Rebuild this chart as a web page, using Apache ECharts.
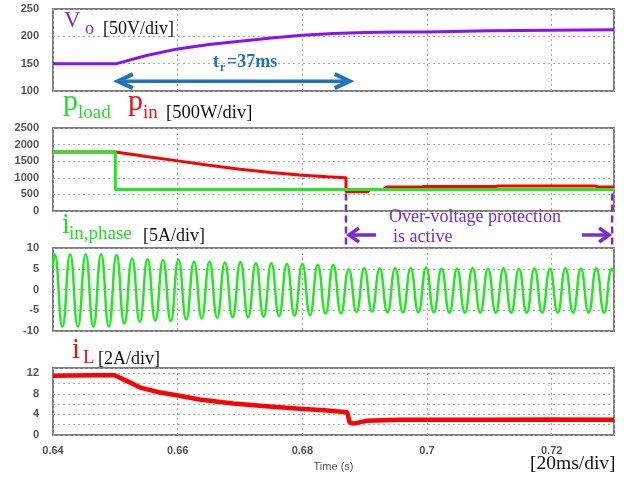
<!DOCTYPE html>
<html><head><meta charset="utf-8">
<script src="https://cdn.jsdelivr.net/npm/echarts@6/dist/echarts.min.js"></script>
<style>html,body{margin:0;padding:0;background:#fff}#c{width:624px;height:481px}</style>
</head><body><div id="c"></div>
<script>
// ---- data ----
const xTickLabels = ['0.64','0.66','0.68','0.7','0.72'];

const voTime = [0.64, 0.6502, 0.655, 0.66, 0.665, 0.67, 0.675, 0.68, 0.685, 0.69, 0.695, 0.70, 0.71, 0.72, 0.73];
const voVal  = [150, 150, 165, 177, 185, 191, 197, 202, 205, 207, 208, 208, 210, 211, 212];

const ploadTime = [0.64, 0.65, 0.65, 0.73];
const ploadVal  = [1780, 1780, 650, 650];

const pinTime = [0.64, 0.65, 0.655, 0.66, 0.665, 0.67, 0.675, 0.68, 0.684, 0.687, 0.687, 0.6905, 0.6908, 0.693, 0.6935, 0.699, 0.6995, 0.711, 0.7115, 0.727, 0.7275, 0.73];
const pinVal  = [1780, 1780, 1640, 1510, 1375, 1255, 1160, 1080, 1030, 1000, 580, 580, 650, 650, 720, 720, 740, 740, 750, 750, 725, 725];

const iphTime = [0.64, 0.64027, 0.64151, 0.64275, 0.64399, 0.64524, 0.64648, 0.64772, 0.64896, 0.65020, 0.65144,
  0.65269, 0.65393, 0.65517, 0.65641, 0.65765, 0.65889, 0.66013, 0.66138, 0.66262, 0.66386,
  0.66510, 0.66634, 0.66758, 0.66882, 0.67007, 0.67131, 0.67255, 0.67379, 0.67503, 0.67627,
  0.67752, 0.67876, 0.68000, 0.68124, 0.68248, 0.68372, 0.68496, 0.68621, 0.68745, 0.68869,
  0.68993, 0.69117, 0.69241, 0.69365, 0.69490, 0.69614, 0.69738, 0.69862, 0.69986, 0.70110,
  0.70234, 0.70359, 0.70483, 0.70607, 0.70731, 0.70855, 0.70979, 0.71103, 0.71228, 0.71352,
  0.71476, 0.71600, 0.71724, 0.71848, 0.71973, 0.72097, 0.72221, 0.72345, 0.72469, 0.72593,
  0.72717, 0.72842, 0.72966, 0.73];
const iphVal = [5.5, 8.5, -9.0, 8.5, -9.0, 8.5, -9.0, 8.5, -8.9, 8.3, -8.2,
  7.5, -7.8, 7.3, -7.5, 7.1, -7.6, 7.2, -7.2, 6.7, -7.0,
  6.7, -6.8, 6.5, -6.7, 6.6, -6.7, 6.3, -6.55, 6.3, -6.4,
  6.15, -6.3, 6.15, -6.15, 5.9, -5.8, 5.9, -5.75, 4.9, -5.4,
  5.1, -5.35, 5.1, -5.5, 5.1, -5.5, 5.1, -5.5, 5.3, -5.5,
  5.0, -5.6, 5.0, -5.6, 5.1, -5.6, 5.0, -5.6, 5.1, -5.6,
  5.0, -5.6, 5.1, -5.6, 5.0, -5.6, 5.1, -5.6, 5.0, -5.6,
  5.1, -5.6, 5.0, 4.0];

const ilTime = [0.64, 0.6465, 0.6499, 0.6518, 0.654, 0.657, 0.6598, 0.6635, 0.6689, 0.6742, 0.6796, 0.6835, 0.6868, 0.6872, 0.6876, 0.6882, 0.6903, 0.6956, 0.70, 0.71, 0.72, 0.73];
const ilVal  = [11.5, 11.6, 11.6, 10.5, 9.2, 8.3, 7.7, 6.9, 6.1, 5.6, 5.1, 4.8, 4.45, 4.4, 2.4, 2.2, 2.75, 2.95, 2.95, 2.95, 3.0, 2.95];

const riseStart = 0.6504, riseEnd = 0.6876;     // t_r = 37 ms
const ovpStart = 0.687, ovpEnd = 0.7297;

// ---- chart ----
const pair = (t, v) => t.map((x, i) => [x, v[i]]);
const serif = '"Liberation Serif","DejaVu Serif",serif';
const sans = '"Liberation Sans",Arial,sans-serif';
const gridTops = [9, 128, 248, 368], gridH = [82, 83, 83, 67];

function makeX(i) {
  const last = i === 3;
  return {
    type: 'value', gridIndex: i, min: 0.64, max: 0.73, interval: 0.02,
    axisLine: { show: false }, axisTick: { show: false },
    splitLine: { show: true, lineStyle: { color: '#a8a8a8', type: [2, 3], width: 1 } },
    axisLabel: last ? {
      show: true, margin: 10, color: '#555', fontSize: 11, fontWeight: 'bold', fontFamily: sans,
      formatter: v => { const k = Math.round((v - 0.64) / 0.02); return Math.abs(v - 0.64 - k * 0.02) < 1e-7 && k < xTickLabels.length ? xTickLabels[k] : ''; }
    } : { show: false },
    name: last ? 'Time (s)' : '', nameLocation: 'middle', nameGap: 26,
    nameTextStyle: { color: '#555', fontSize: 11, fontFamily: sans }
  };
}
function makeY(i, min, max, interval, fmt) {
  return {
    type: 'value', gridIndex: i, min, max, interval,
    axisLine: { show: false }, axisTick: { show: false },
    splitLine: { show: true, lineStyle: { color: '#a8a8a8', type: [2, 3], width: 1 } },
    axisLabel: { margin: 14, color: '#555', fontSize: 11, fontWeight: 'bold', fontFamily: sans, formatter: fmt || (v => String(v)) }
  };
}

const chart = echarts.init(document.getElementById('c'), null, { renderer: 'canvas' });
chart.setOption({
  animation: false,
  backgroundColor: '#fff',
  grid: gridTops.map((t, i) => ({ left: 53, right: 10, top: t, height: gridH[i], show: true, borderColor: '#7c7c7c', borderWidth: 2, backgroundColor: 'transparent' })),
  xAxis: [0, 1, 2, 3].map(makeX),
  yAxis: [
    makeY(0, 100, 250, 50),
    makeY(1, 0, 2500, 500),
    makeY(2, -10, 10, 5),
    makeY(3, 0, 13, 2, v => (v % 4 === 0 ? String(v) : ''))
  ],
  series: [
    { type: 'line', xAxisIndex: 0, yAxisIndex: 0, data: pair(voTime, voVal), symbol: 'none', lineStyle: { color: '#8B10F5', width: 3 } },
    { type: 'line', xAxisIndex: 1, yAxisIndex: 1, data: pair(pinTime, pinVal), symbol: 'none', lineStyle: { color: '#FF0000', width: 3 } },
    { type: 'line', xAxisIndex: 1, yAxisIndex: 1, data: pair(ploadTime, ploadVal), symbol: 'none', lineStyle: { color: '#1EEB1E', width: 3 } },
    { type: 'line', xAxisIndex: 2, yAxisIndex: 2, data: pair(iphTime, iphVal), symbol: 'none', smooth: 0.5, lineStyle: { color: '#1EEB1E', width: 2.5 } },
    { type: 'line', xAxisIndex: 3, yAxisIndex: 3, data: pair(ilTime, ilVal), symbol: 'none', lineStyle: { color: '#FF0000', width: 4.5 } }
  ]
});

// ---- annotations ----
function txt(x, y, text, size, color, opts) {
  return { type: 'text', x, y, z: 100, style: { text, fontSize: size, fontFamily: serif, fill: color, verticalAlign: 'middle', align: 'left', fontWeight: (opts && opts.bold) ? 'bold' : 'normal' } };
}
const purple = '#7A2BD6', blue = '#1E72BE', green = '#22E022', red = '#EE1010';
const P = (g, t, v) => chart.convertToPixel({ xAxisIndex: g, yAxisIndex: g }, [t, v]);
const a1 = P(0, riseStart, 118), a2 = P(0, riseEnd, 118);
const d1t = P(1, ovpStart, 530), d1b = P(2, ovpStart, 10);
const d2t = P(1, ovpEnd, 530), d2b = P(2, ovpEnd, 10);
const arrowY = 235;
function chevron(tipX, y, dir, len, half, color, w) {
  return { type: 'polyline', z: 100, shape: { points: [[tipX + dir * len, y - half], [tipX, y], [tipX + dir * len, y + half]] }, style: { stroke: color, lineWidth: w, fill: null, lineJoin: 'miter' } };
}
const g = [
  txt(64, 21, 'V', 23, purple), txt(85, 29.5, 'o', 18, purple), txt(103, 29, '[50V/div]', 18, '#111'),
  txt(213, 62, 't', 18, blue, { bold: true }), txt(220, 67.5, 'r', 12, blue, { bold: true }), txt(227, 62, '=37ms', 18, blue, { bold: true }),
  { type: 'line', z: 100, shape: { x1: a1[0] + 2, y1: a1[1], x2: a2[0] - 2, y2: a2[1] }, style: { stroke: blue, lineWidth: 3.5 } },
  chevron(a1[0], a1[1], 1, 15, 7, blue, 4), chevron(a2[0], a2[1], -1, 15, 7, blue, 4),
  txt(63, 102, 'p', 30, green), txt(78, 113.5, 'load', 19, green),
  txt(128, 102, 'p', 30, red), txt(143, 113.5, 'in', 19, red), txt(166, 113, '[500W/div]', 18.5, '#111'),
  txt(62, 225.5, 'i', 29, green), txt(69, 234, 'in,phase', 19, green), txt(143, 236, '[5A/div]', 18, '#111'),
  txt(72, 350.5, 'i', 29, red), txt(83, 358.5, 'L', 19, red), txt(98, 359, '[2A/div]', 18, '#111'),
  txt(389, 217, 'Over-voltage protection', 18, purple), txt(393, 237, 'is active', 18, purple),
  txt(530, 464, '[20ms/div]', 19.5, '#111'),
  { type: 'line', z: 100, shape: { x1: d1t[0], y1: d1t[1], x2: d1b[0], y2: d1b[1] }, style: { stroke: purple, lineWidth: 2.5, lineDash: [7, 4] } },
  { type: 'line', z: 100, shape: { x1: d2t[0], y1: d2t[1], x2: d2b[0], y2: d2b[1] }, style: { stroke: purple, lineWidth: 2.5, lineDash: [7, 4] } },
  { type: 'line', z: 100, shape: { x1: d1t[0] + 3, y1: arrowY, x2: d1t[0] + 30, y2: arrowY }, style: { stroke: purple, lineWidth: 3.5 } },
  chevron(d1t[0] + 3, arrowY, 1, 10, 7, purple, 3.5),
  { type: 'line', z: 100, shape: { x1: d2t[0] - 30, y1: arrowY, x2: d2t[0] - 3, y2: arrowY }, style: { stroke: purple, lineWidth: 3.5 } },
  chevron(d2t[0] - 3, arrowY, -1, 10, 7, purple, 3.5)
];
chart.setOption({ graphic: g });
</script></body></html>
